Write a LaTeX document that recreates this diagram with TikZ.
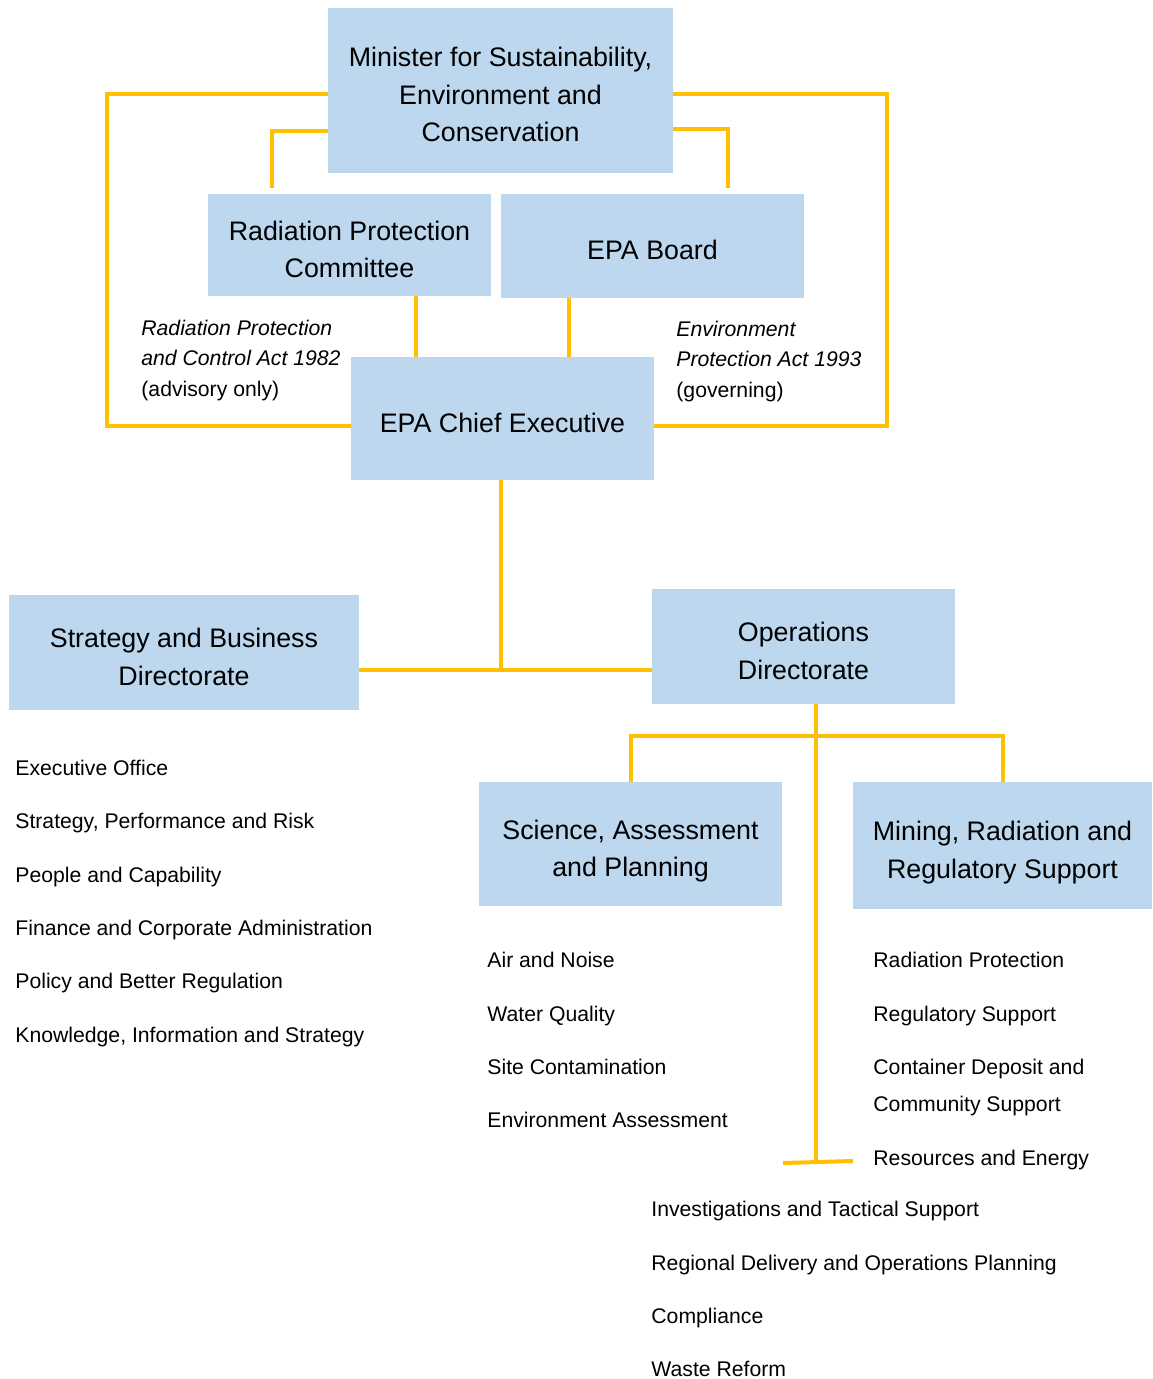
\documentclass[tikz,border=0pt]{standalone}
\usepackage{fontspec}
\setmainfont{Liberation Sans}
\definecolor{boxblue}{HTML}{BDD7EE}
\definecolor{linegold}{HTML}{FFC000}

\begin{document}
\begin{tikzpicture}[x=0.5pt, y=-0.5pt,
	boxtop/.style={execute at begin node={\rule{0pt}{#1}}},
	box/.style={fill=boxblue, draw=none, align=center, inner sep=0pt, text depth=0pt, boxtop=13.8pt, font=\fontsize{13.4}{18.75}\selectfont},
	item/.style={anchor=base west, inner sep=0pt, font=\fontsize{10.6}{18.5}\selectfont},
	act/.style={anchor=west, inner sep=0pt, align=left, font=\fontsize{10.6}{15.25}\selectfont},
	link/.style={draw=linegold, line width=2pt}]
	\useasboundingbox (0,0) rectangle (1152,1379);

	\node[box, boxtop=51.3pt, minimum width=172.5pt, minimum height=82.5pt] (min) at (500.5,90.5){Minister for Sustainability,\\Environment and\\Conservation};
	\node[box, boxtop=32.55pt, minimum width=141.5pt, minimum height=51pt] (rpc) at (349.5,245){Radiation Protection\\Committee};
	\node[box, minimum width=151.5pt, minimum height=52pt] (board) at (652.5,246){EPA Board};
	\node[box, minimum width=151.5pt, minimum height=61.5pt] (chief) at (502.5,418.5){EPA Chief Executive};
	\node[box, boxtop=32.55pt, minimum width=175pt, minimum height=57.5pt] (strat) at (184,652.5){Strategy and Business\\Directorate};
	\node[box, boxtop=32.55pt, minimum width=151.5pt, minimum height=57.5pt] (ops) at (803.5,646.5){Operations\\Directorate};
	\node[box, boxtop=32.55pt, minimum width=151.5pt, minimum height=62pt] (sci) at (630.5,844){Science, Assessment\\and Planning};
	\node[box, boxtop=32.55pt, minimum width=149.5pt, minimum height=63.5pt] (mining) at (1002.5,845.5){Mining, Radiation and\\Regulatory Support};

	\node[act] (rpcact) at (141,360.5){\itshape Radiation Protection\\\itshape and Control Act 1982\\(advisory only)};
	\node[act] (epact) at (676,361.5){\itshape Environment\\\itshape Protection Act 1993\\(governing)};

	\node[item] (sb1) at (15,775){Executive Office};
	\node[item] (sb2) at (15,828){Strategy, Performance and Risk};
	\node[item] (sb3) at (15,882){People and Capability};
	\node[item] (sb4) at (15,935){Finance and Corporate Administration};
	\node[item] (sb5) at (15,988){Policy and Better Regulation};
	\node[item] (sb6) at (15,1042){Knowledge, Information and Strategy};

	\node[item] (sa1) at (487,967){Air and Noise};
	\node[item] (sa2) at (487,1021){Water Quality};
	\node[item] (sa3) at (487,1074){Site Contamination};
	\node[item] (sa4) at (487,1127){Environment Assessment};

	\node[item] (mr1) at (873,967){Radiation Protection};
	\node[item] (mr2) at (873,1021){Regulatory Support};
	\node[act, font=\fontsize{10.6}{18.5}\selectfont] (mr3) at (873,1088){Container Deposit and\\Community Support};
	\node[item] (mr4) at (873,1165){Resources and Energy};

	\node[item] (op1) at (651,1216){Investigations and Tactical Support};
	\node[item] (op2) at (651,1270){Regional Delivery and Operations Planning};
	\node[item] (op3) at (651,1323){Compliance};
	\node[item] (op4) at (651,1376){Waste Reform};

	\coordinate (ltop) at (107,94);
	\coordinate (lbot) at (107,426);
	\coordinate (rtop) at (887,94);
	\coordinate (rbot) at (887,426);
	\coordinate (lin) at (272,131);
	\coordinate (linb) at (272,188);
	\coordinate (rin) at (728,129);
	\coordinate (rinb) at (728,188);
	\coordinate (rpcx) at (416,0);
	\coordinate (brdx) at (569,0);
	\coordinate (mid) at (501,670);
	\coordinate (opsx) at (816,736);
	\coordinate (tee) at (816,1162);
	\coordinate (teel) at (783,1163);
	\coordinate (teer) at (853,1161);

	\draw[link] (min.west |- ltop) -- (ltop) -- (lbot) -- (chief.west |- lbot);
	\draw[link] (min.east |- rtop) -- (rtop) -- (rbot) -- (chief.east |- rbot);
	\draw[link] (min.west |- lin) -- (lin) -- (linb);
	\draw[link] (min.east |- rin) -- (rin) -- (rinb);
	\draw[link] (rpc.south -| rpcx) -- (chief.north -| rpcx);
	\draw[link] (board.south -| brdx) -- (chief.north -| brdx);
	\draw[link] (chief.south -| mid) -- (mid);
	\draw[link] (strat.east |- mid) -- (ops.west |- mid);
	\draw[link] (ops.south -| opsx) -- (tee);
	\draw[link] (sci.north) |- (opsx) -| (mining.north);
	\draw[link] (teel) -- (teer);
\end{tikzpicture}
\end{document}
